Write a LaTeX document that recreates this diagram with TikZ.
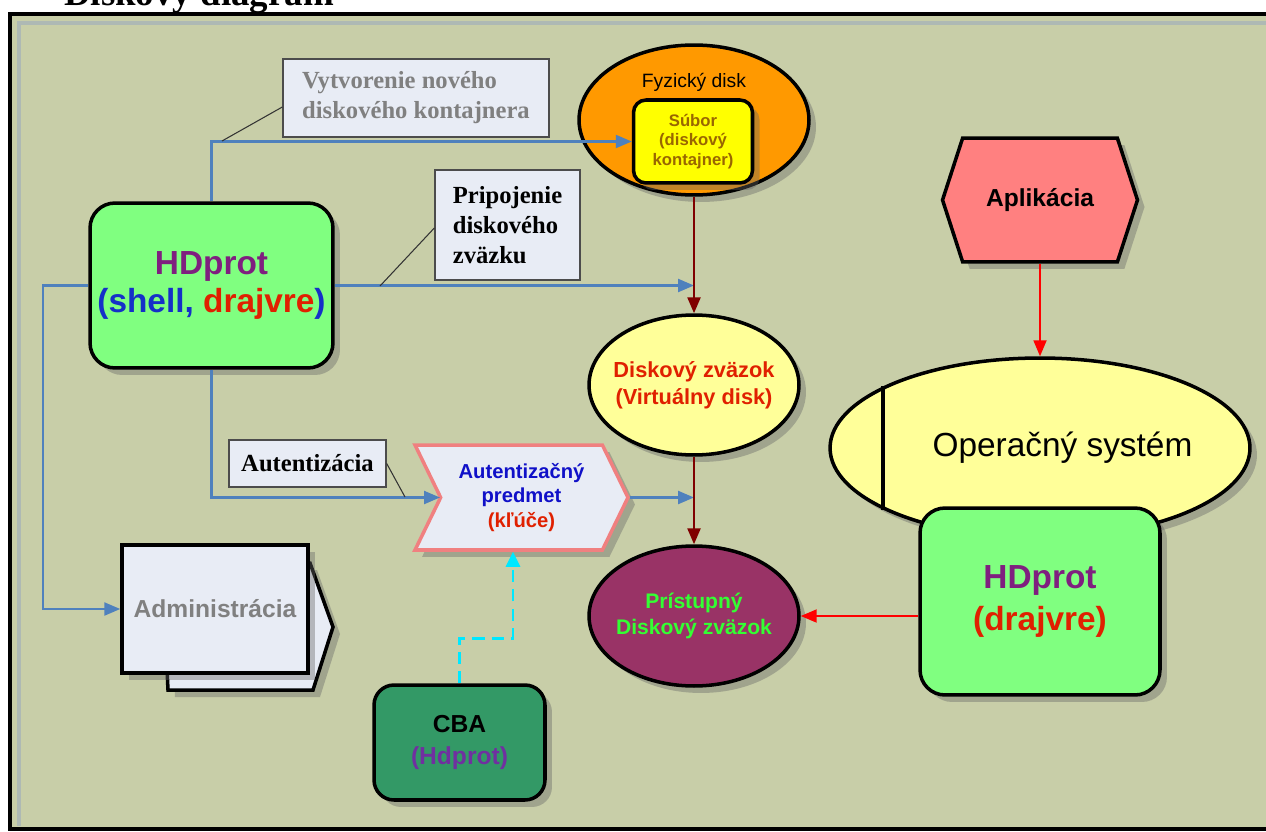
\documentclass[tikz,border=0pt]{standalone}
\usepackage{fontspec}
\setmainfont{Liberation Sans}
\newfontfamily\timesfont{Liberation Serif}
\usetikzlibrary{arrows.meta,shapes.geometric,shapes.symbols,shadows}
\definecolor{bgcol}{HTML}{C8CEA8}
\definecolor{bevel}{HTML}{AEB9B4}
\definecolor{lblfill}{HTML}{E8ECF5}
\definecolor{linkblue}{HTML}{4F81BD}
\definecolor{darkred}{HTML}{800000}
\definecolor{hdgreen}{HTML}{80FF80}
\definecolor{hdpurple}{HTML}{7F1F7F}
\definecolor{hdblue}{HTML}{1530C8}
\definecolor{hdred}{HTML}{E02000}
\definecolor{diskorange}{HTML}{FF9900}
\definecolor{suborfill}{HTML}{FFFF00}
\definecolor{subortext}{HTML}{996600}
\definecolor{paleyellow}{HTML}{FFFF99}
\definecolor{maroon}{HTML}{993366}
\definecolor{accgreen}{HTML}{33FF33}
\definecolor{authpink}{HTML}{F08080}
\definecolor{authblue}{HTML}{1010C8}
\definecolor{appred}{HTML}{FF8080}
\definecolor{cbagreen}{HTML}{339966}
\definecolor{cbapurple}{HTML}{7030A0}
\definecolor{cyanline}{HTML}{00E8FF}
\tikzset{
  shd/.style={drop shadow={shadow xshift=0.14cm,shadow yshift=-0.14cm,fill=black!60,opacity=0.4}},
  box/.style={draw=black,line width=2pt,align=center,font=\bfseries,inner sep=0pt,shd},
  lbl/.style={draw=black!70,line width=0.8pt,fill=lblfill,inner sep=0pt,
    font=\timesfont\bfseries\fontsize{14}{17}\selectfont},
  callout/.style={draw=black!80,line width=0.6pt},
  bluearr/.style={draw=linkblue,line width=1.3pt,-{Triangle[length=0.32cm,width=0.26cm]}},
  redarr/.style={draw=darkred,line width=1.4pt,-{Triangle[length=0.32cm,width=0.26cm]}},
  brightarr/.style={draw=red,line width=1.1pt,-{Triangle[length=0.32cm,width=0.26cm]}},
  cyanarr/.style={draw=cyanline,line width=1.6pt,dash pattern=on 7pt off 4pt,-{Triangle[length=0.3cm,width=0.28cm]}}
}
\begin{document}
\begin{tikzpicture}[x=0.02cm,y=-0.02cm]
\useasboundingbox (0,0) rectangle (1266,831);
\clip (0,0) rectangle (1266,831);
% frame
\fill[bgcol] (10,14) rectangle (1270,829);
\draw[bevel,line width=2pt] (19,826) -- (19,23) -- (1270,23);
\draw[line width=2.4pt] (1270,829) -- (10,829) -- (10,14) -- (1270,14);
\node[anchor=base west,font=\timesfont\bfseries\fontsize{21}{25}\selectfont] (title) at (58,6) {Diskový diagram};

% left side
\node[box,rounded corners=0.5cm,fill=hdgreen,minimum width=4.86cm,minimum height=3.3cm,
  font=\bfseries\fontsize{19}{22}\selectfont] (hdprot) at (211.5,285.5)
  {\textcolor{hdpurple}{HDprot}\\\textcolor{hdblue}{(shell, }\textcolor{hdred}{drajvre}\textcolor{hdblue}{)}};
\node[lbl,text=gray,align=left,minimum width=5.32cm,minimum height=1.56cm] (vytv) at (416,98)
  {Vytvorenie nového\\diskového kontajnera};
\node[lbl,align=left,minimum width=2.9cm,minimum height=2.2cm] (pripoj) at (507.5,225)
  {Pripojenie\\diskového\\zväzku};
\node[lbl,minimum width=3.14cm,minimum height=0.94cm] (autent) at (307.5,463.5) {Autentizácia};
\draw[draw=black,line width=2pt,fill=lblfill,shd] (162,563) -- (310,563) -- (333,627) -- (313,690) -- (168,690) -- cycle;
\node[box,fill=lblfill,text=gray,minimum width=3.72cm,minimum height=2.56cm,
  font=\bfseries\fontsize{14}{17}\selectfont] (admin) at (215,609) {Administrácia};
\node[box,rounded corners=0.4cm,fill=cbagreen,minimum width=3.42cm,minimum height=2.3cm,
  font=\bfseries\fontsize{14}{18}\selectfont] (cba) at (459.5,742.5) {CBA\\\textcolor{cbapurple}{(Hdprot)}};
\node[box,draw=authpink,shape=signal,signal from=west,signal to=east,signal pointer angle=128,
  fill=lblfill,minimum width=4.26cm,minimum height=2.1cm,
  font=\bfseries\fontsize{11.5}{14}\selectfont] (auth) at (521.5,497.5)
  {\textcolor{authblue}{Autentizačný}\\\textcolor{authblue}{predmet}\\\textcolor{hdred}{(kľúče)}};

% middle
\node[box,shape=ellipse,fill=diskorange,minimum width=4.6cm,minimum height=3cm] (fyz) at (694,120) {};
\node[font=\fontsize{11}{13}\selectfont] (fyztext) at (694,82) {Fyzický disk};
\node[box,rounded corners=0.25cm,fill=suborfill,text=subortext,minimum width=2.38cm,minimum height=1.66cm,
  font=\bfseries\fontsize{9.5}{11}\selectfont] (subor) at (693,141.5) {Súbor\\(diskový\\kontajner)};
\node[box,shape=ellipse,inner sep=-0.4cm,fill=paleyellow,text=hdred,minimum width=4.2cm,minimum height=2.8cm,
  font=\bfseries\fontsize{12.4}{15.5}\selectfont] (zvazok) at (694,385) {Diskový zväzok\\(Virtuálny disk)};
\node[box,shape=ellipse,inner sep=-0.4cm,fill=maroon,text=accgreen,minimum width=4.2cm,minimum height=2.8cm,
  font=\bfseries\fontsize{12}{15}\selectfont] (pristup) at (694,616) {Prístupný\\Diskový zväzok};

% right side
\node[box,shape=signal,signal to=east and west,signal pointer angle=144,fill=appred,
  minimum width=3.9cm,minimum height=2.48cm,font=\bfseries\fontsize{14}{17}\selectfont] (aplik) at (1040,200) {Aplikácia};
\node[box,shape=ellipse,inner sep=-0.8cm,fill=paleyellow,minimum width=8.4cm,minimum height=3.6cm,
  font=\fontsize{19}{23}\selectfont] (os) at (1040,448) {\hspace*{0.9cm}Operačný systém};
\draw[line width=2pt] ([shift={(-157,-62)}]os.center) -- ([shift={(-157,62)}]os.center);
\node[box,rounded corners=0.5cm,fill=hdgreen,minimum width=4.8cm,minimum height=3.74cm,
  font=\bfseries\fontsize{19}{24}\selectfont] (hd2) at (1040,601.5)
  {\textcolor{hdpurple}{HDprot}\\\textcolor{hdred}{(drajvre)}};

% connectors
\coordinate (c1) at (222,141);
\coordinate (c2) at (380,286);
\coordinate (c3) at (405,497);
\coordinate (authin) at (440,497.5);
\draw[bluearr] (hdprot.north) -- (hdprot.north |- subor.west) -- (subor.west);
\draw[callout] ([yshift=-0.18cm]vytv.west) -- (c1);
\draw[bluearr] (hdprot.east) -- (hdprot.east -| zvazok.north);
\draw[callout] ([yshift=-0.06cm]pripoj.west) -- (c2);
\draw[bluearr] (hdprot.south) |- (authin);
\draw[callout] (autent.east) -- (c3);
\draw[bluearr] (auth.east) -- (auth.east -| zvazok.south);
\draw[bluearr] (hdprot.west) -- ++(-45,0) |- (admin.west);
\draw[redarr] (fyz.south) -- (zvazok.north);
\draw[redarr] (zvazok.south) -- (pristup.north);
\draw[cyanarr] (cba.north) -- ++(0,-45) -| ([xshift=-0.17cm]auth.south);
\draw[brightarr] (aplik.south) -- (os.north);
\draw[brightarr] (hd2.west |- pristup.east) -- (pristup.east);
\end{tikzpicture}
\end{document}
